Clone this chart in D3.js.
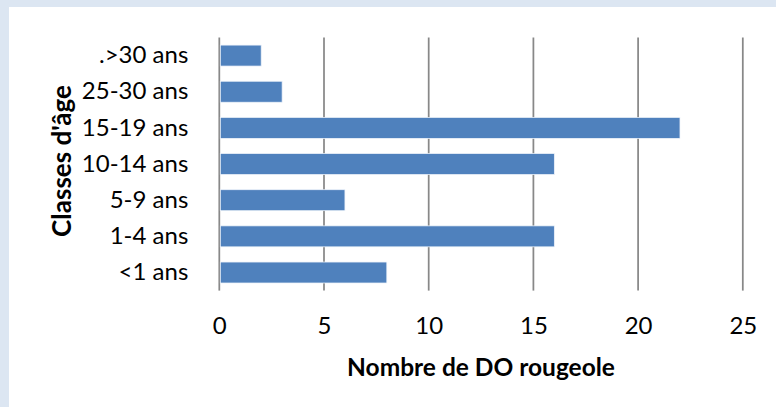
<!DOCTYPE html>
<html>
<head>
<meta charset="utf-8">
<script src="https://cdn.jsdelivr.net/npm/d3@7"></script>
<style>
  body { margin: 0; background: #dce6f2; }
  svg { display: block; }
  text { font-family: Lato, "Open Sans", sans-serif; fill: #000; }
</style>
</head>
<body>
<div id="chart"></div>
<script>
// data, top row first
var categories = [".>30 ans", "25-30 ans", "15-19 ans", "10-14 ans", "5-9 ans", "1-4 ans", "<1 ans"];
var counts = [2, 3, 22, 16, 6, 16, 8];
var xTicks = [0, 5, 10, 15, 20, 25];
var xTitle = "Nombre de DO rougeole";
var yTitle = "Classes d'âge";

var W = 776, H = 407;
var plot = { left: 219.3, right: 742.8, top: 37.5, bottom: 290.6 };

var svg = d3.select("#chart")
    .append("svg")
    .attr("width", W)
    .attr("height", H);

// light blue frame on top and left, white chart area
svg.append("rect")
    .attr("x", 0).attr("y", 0)
    .attr("width", W).attr("height", H)
    .attr("fill", "#dce6f2");
svg.append("rect")
    .attr("x", 9).attr("y", 7)
    .attr("width", W - 9).attr("height", H - 7)
    .attr("fill", "#ffffff");

var x = d3.scaleLinear()
    .domain([0, 25])
    .range([plot.left, plot.right]);

var y = d3.scaleBand()
    .domain(categories)
    .range([plot.top, plot.bottom])
    .paddingInner(0.42)
    .paddingOuter(0.21);

// vertical gridlines (also serve as ticks below the plot)
svg.append("g")
    .selectAll("line")
    .data(xTicks)
    .enter()
    .append("line")
    .attr("x1", function (d) { return x(d); })
    .attr("x2", function (d) { return x(d); })
    .attr("y1", plot.top)
    .attr("y2", plot.bottom)
    .attr("stroke", "#888888")
    .attr("stroke-width", 1.75);

// bars
svg.append("g")
    .selectAll("rect")
    .data(categories)
    .enter()
    .append("rect")
    .attr("x", x(0) + 1)
    .attr("y", function (d) { return y(d); })
    .attr("width", function (d, i) { return x(counts[i]) - x(0) - 1; })
    .attr("height", y.bandwidth())
    .attr("fill", "#4f81bd")
    .attr("stroke", "#eef3fa")
    .attr("stroke-width", 0.75);

// x axis labels
var xAxis = svg.append("g")
    .attr("transform", "translate(0," + (plot.bottom + 26) + ")")
    .call(d3.axisBottom(x).tickValues(xTicks).tickSize(0).tickPadding(0));
xAxis.select(".domain").remove();
xAxis.selectAll("text")
    .attr("dy", "0.71em")
    .style("font-size", "24px")
    .style("font-family", "Lato, sans-serif");

// y axis labels
var yAxis = svg.append("g")
    .attr("transform", "translate(" + (plot.left - 31) + ",0)")
    .call(d3.axisLeft(y).tickSize(0).tickPadding(0));
yAxis.select(".domain").remove();
yAxis.selectAll("text")
    .style("font-size", "24px")
    .style("font-family", "Lato, sans-serif");

// axis titles
svg.append("text")
    .attr("x", 481)
    .attr("y", 366)
    .attr("text-anchor", "middle")
    .attr("dominant-baseline", "central")
    .style("font-size", "24.5px")
    .style("font-weight", "bold")
    .text(xTitle);

svg.append("text")
    .attr("transform", "translate(61,161) rotate(-90)")
    .attr("text-anchor", "middle")
    .attr("dominant-baseline", "central")
    .style("font-size", "26px")
    .style("font-weight", "bold")
    .text(yTitle);
</script>
</body>
</html>
